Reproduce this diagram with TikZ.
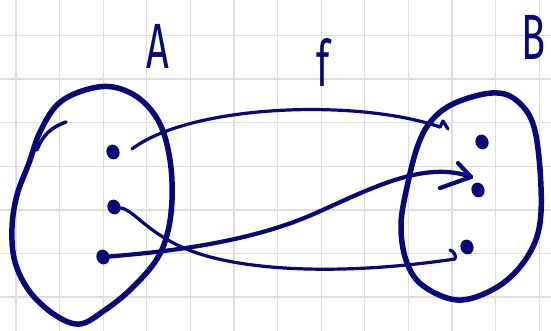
\documentclass[tikz,border=0pt]{standalone}
\usepackage{fontspec}
\setsansfont{Fira Sans}
\usetikzlibrary{shapes.geometric}
\definecolor{inkblue}{RGB}{8,8,122}
\definecolor{gridgray}{RGB}{222,222,222}
\begin{document}
\begin{tikzpicture}[x=1pt,y=-1pt,
  ink/.style={draw=inkblue, line cap=round, line join=round},
  blob/.style={ink, line width=5.5pt},
  arrowline/.style={ink, line width=3.2pt},
  thickarrow/.style={ink, line width=4.2pt},
  dotnode/.style={ellipse, fill=inkblue, inner sep=0pt, minimum width=13pt, minimum height=15pt, rotate=20},
  gridline/.style={draw=gridgray, line width=1.3pt},
  lbl/.style={text=inkblue, font=\sffamily\fontsize{64}{64}\selectfont, inner sep=0pt, xscale=0.62}]
\useasboundingbox (0,0) rectangle (551,331);
\fill[white] (0,0) rectangle (551,331);
\clip (0,0) rectangle (551,331);
% grid paper
\foreach \k in {0,...,12} \draw[gridline] (16+43.6*\k,0) -- (16+43.6*\k,331);
\foreach \k in {0,...,6} \draw[gridline] (0,35.5+43.6*\k) -- (551,35.5+43.6*\k);
% labels
\node[lbl] (labA) at (158,46) {A};
\node[lbl] (labf) at (323,63) {f};
\node[lbl] (labB) at (534,37) {B};
% set A
\draw[blob] plot[smooth cycle, tension=0.6] coordinates {(113,87) (140,99) (160,124) (170,160) (172,200) (167,235) (155,262) (130,290) (105,310) (80,324) (55,315) (30,292) (15,262) (12,228) (17,195) (29,163) (40,132) (58,104) (85,90)};
\draw[ink, line width=3.5pt] (66,122) to[out=200,in=70] (37,150);
% set B
\draw[blob] plot[smooth cycle, tension=0.6] coordinates {(492,93) (516,100) (534,127) (541,187) (538,233) (520,267) (492,290) (457,300) (422,285) (406,260) (401,225) (407,187) (418,145) (432,120) (455,103)};
% elements
\node[dotnode] (a1) at (113,152) {};
\node[dotnode] (a2) at (114,207) {};
\node[dotnode] (a3) at (103,257) {};
\node[dotnode] (b1) at (482,142) {};
\node[dotnode] (b2) at (478,190) {};
\node[dotnode] (b3) at (467,247) {};
% free ends of the connectors
\coordinate (s1) at (132,149);
\coordinate (e1) at (440,127);
\coordinate (e2) at (455,259);
\coordinate (e3) at (471,177);
% mapping f
\draw[arrowline] (s1) .. controls (190,105) and (355,98) .. (e1);
\draw[arrowline] (e1) -- ++(3,-6) -- ++(5,8);
\draw[arrowline] (a2) .. controls (135,210) and (150,238) .. (200,254) .. controls (250,270) and (340,276) .. (e2);
\draw[arrowline] (e2) to[out=70,in=-20] ++(-5,-9);
\draw[thickarrow] (a3) .. controls (190,250) and (260,238) .. (316,213) .. controls (372,188) and (425,160) .. (e3);
\draw[thickarrow] (e3) -- ++(-31,11);
\draw[thickarrow] (e3) -- ++(-13,-14);
\end{tikzpicture}
\end{document}
